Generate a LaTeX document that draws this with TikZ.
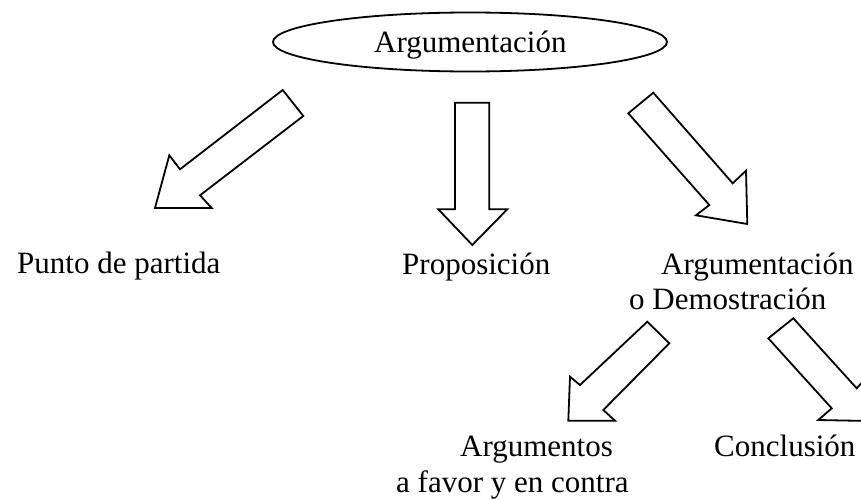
\documentclass[tikz,border=0pt]{standalone}
\usepackage{fontspec}
\setmainfont{Liberation Serif}
\usetikzlibrary{shapes.geometric}
\tikzset{
  lbl/.style={anchor=base west, inner sep=0pt, font=\fontsize{31}{36}\selectfont},
  blockarrow/.style={draw=black, line width=1.8pt, line join=miter, fill=white},
  oval/.style={draw=black, ellipse, line width=1.8pt, inner sep=0pt}
}
\begin{document}
\begin{tikzpicture}[x=1pt, y=-1pt]
\useasboundingbox (0,0) rectangle (861,500);
\clip (0,0) rectangle (861,500);
% top ellipse
\node[oval, minimum width=394pt, minimum height=59pt] (top) at (470,42) {};
\node[lbl] (toptext) at (374,53) {Argumentación};
% arrows
\draw[blockarrow] (282.7,90) -- (303.3,116) -- (200,195.3) -- (211.7,208) -- (155,208) -- (169.3,155.3) -- (180,169.3) -- cycle;
\draw[blockarrow] (455,102.7) -- (489.3,102.7) -- (489.3,209.3) -- (507.3,209.3) -- (472.3,245) -- (438.3,209.3) -- (455,209.3) -- cycle;
\draw[blockarrow] (628.3,113.3) -- (653.3,92.7) -- (732.7,183.3) -- (746,170.7) -- (747.3,224) -- (696,215.3) -- (709.3,205) -- cycle;
\draw[blockarrow] (647.3,321.7) -- (669.3,343.3) -- (603.3,410) -- (615,420.7) -- (568.3,420.7) -- (570,376.7) -- (580,385) -- cycle;
\draw[blockarrow] (768.3,338.3) -- (793.3,318.3) -- (856.7,388.3) -- (867,377) -- (868.5,421) -- (818.3,420) -- (831.7,408.3) -- cycle;
% labels
\node[lbl] (punto) at (17,273) {Punto de partida};
\node[lbl] (prop) at (402,274) {Proposición};
\node[lbl] (arg1) at (661,274) {Argumentación};
\node[lbl] (arg2) at (629,309) {o Demostración};
\node[lbl] (argu1) at (460,456) {Argumentos};
\node[lbl] (argu2) at (396,492) {a favor y en contra};
\node[lbl] (concl) at (714,456) {Conclusión};
\end{tikzpicture}
\end{document}
